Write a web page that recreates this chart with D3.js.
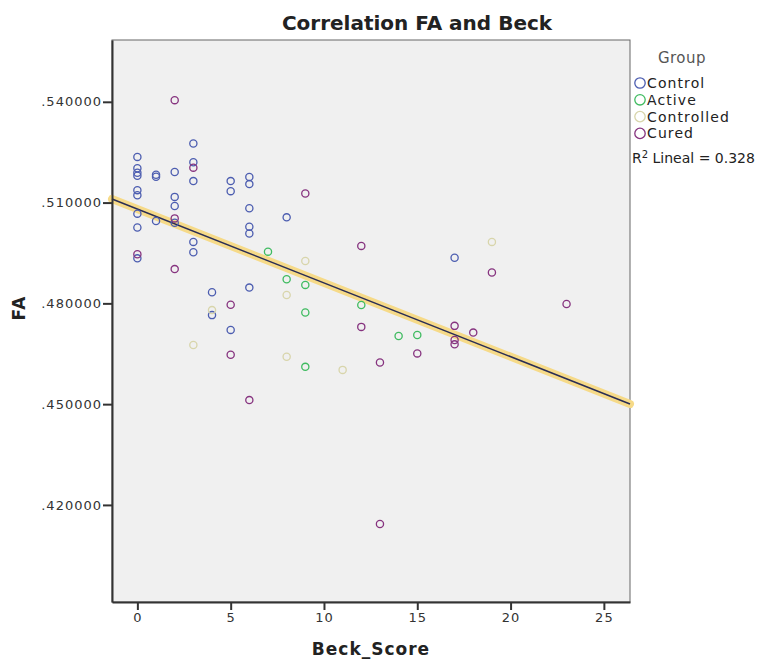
<!DOCTYPE html>
<html>
<head>
<meta charset="utf-8">
<script src="https://cdn.jsdelivr.net/npm/d3@7"></script>
<style>
    body { margin: 0; background: #fff; }
    svg text { font-family: "DejaVu Sans", sans-serif; }
</style>
</head>
<body>
<svg id="chart" width="762" height="662"></svg>
<script>
// Values: Beck score (x) and FA (y) per group
var controlBeck = [0, 0, 0, 0, 1, 1, 2, 3, 3, 3, 5, 5, 6, 6, 0, 0, 2, 2, 6, 8, 0, 1, 2, 0, 6, 6, 3, 3, 0, 6, 4, 4, 5, 17];
var controlFA = [.5236, .5202, .5189, .5180, .5183, .5177, .5191, .5276, .5220, .5164, .5164, .5134, .5176, .5155, .5137, .5122, .5117, .5090, .5083, .5056, .5067, .5045, .5040, .5026, .5028, .5008, .4983, .4952, .4934, .4847, .4833, .4765, .4721, .4936];

var activeBeck = [7, 8, 9, 9, 9, 12, 14, 15];
var activeFA = [.4954, .4872, .4855, .4773, .4611, .4795, .4703, .4706];

var controlledBeck = [9, 8, 4, 3, 8, 11, 19];
var controlledFA = [.4926, .4825, .4780, .4676, .4641, .4602, .4983];

var curedBeck = [2, 3, 9, 2, 0, 2, 5, 5, 6, 12, 12, 19, 23, 13, 15, 17, 18, 17, 17, 13];
var curedFA = [.5405, .5204, .5127, .5053, .4946, .4902, .4796, .4647, .4512, .4971, .4730, .4892, .4798, .4624, .4651, .4733, .4713, .4691, .4678, .4143];

var groupNames = ['Control', 'Active', 'Controlled', 'Cured'];
var groupColors = ['#4c5db0', '#3fbb60', '#d8d5ab', '#86337f'];

var xTicks = [0, 5, 10, 15, 20, 25];
var yTicks = [.42, .45, .48, .51, .54];
var rSquaredText = '0.328';

var groups = [
    {name: groupNames[0], x: controlBeck, y: controlFA},
    {name: groupNames[1], x: activeBeck, y: activeFA},
    {name: groupNames[2], x: controlledBeck, y: controlledFA},
    {name: groupNames[3], x: curedBeck, y: curedFA}
];

var margin = {top: 40, right: 132, bottom: 60, left: 112};
var width = 762 - margin.left - margin.right;
var height = 662 - margin.top - margin.bottom;

var svg = d3.select('#chart');
var g = svg.append('g')
    .attr('transform', 'translate(' + margin.left + ',' + margin.top + ')');

var x = d3.scaleLinear().domain([-1.36, 26.4]).range([0, width]);
var y = d3.scaleLinear().domain([.3911, .5584]).range([height, 0]);

// plot background
g.append('rect')
    .attr('width', width)
    .attr('height', height)
    .attr('fill', '#f0f0f0')
    .attr('stroke', '#666')
    .attr('stroke-width', 1);

// least squares fit over all points
var allX = [], allY = [];
groups.forEach(function(grp) {
    allX = allX.concat(grp.x);
    allY = allY.concat(grp.y);
});
var mx = d3.mean(allX), my = d3.mean(allY);
var sxy = d3.sum(allX, function(v, i) { return (v - mx) * (allY[i] - my); });
var sxx = d3.sum(allX, function(v) { return (v - mx) * (v - mx); });
var slope = sxy / sxx;
var intercept = my - slope * mx;

var fitLine = d3.line()
    .x(function(d) { return x(d); })
    .y(function(d) { return y(intercept + slope * d); });
var ends = x.domain();

g.append('path')
    .datum(ends)
    .attr('d', fitLine)
    .attr('fill', 'none')
    .attr('stroke', '#f6da88')
    .attr('stroke-width', 8)
    .attr('stroke-linecap', 'round');
g.append('path')
    .datum(ends)
    .attr('d', fitLine)
    .attr('fill', 'none')
    .attr('stroke', '#2a2d55')
    .attr('stroke-width', 1.5);

// points
groups.forEach(function(grp, gi) {
    g.selectAll('.pt' + gi)
        .data(grp.x)
        .enter().append('circle')
            .attr('class', 'pt' + gi)
            .attr('cx', function(d) { return x(d); })
            .attr('cy', function(d, i) { return y(grp.y[i]); })
            .attr('r', 3.6)
            .attr('fill', 'none')
            .attr('stroke', groupColors[gi])
            .attr('stroke-width', 1.3);
});

// axes
var xAxis = d3.axisBottom(x).tickValues(xTicks).tickSize(8).tickSizeOuter(0).tickPadding(3).tickFormat(d3.format('d'));
var yAxis = d3.axisLeft(y).tickValues(yTicks).tickSize(9).tickSizeOuter(0).tickPadding(1).tickFormat(function(d) {
    return d3.format('.6f')(d).replace(/^0/, '');
});

var gx = g.append('g')
    .attr('transform', 'translate(0,' + height + ')')
    .call(xAxis);
var gy = g.append('g').call(yAxis);

[gx, gy].forEach(function(a) {
    a.select('.domain').attr('stroke', '#333').attr('stroke-width', 2);
    a.selectAll('.tick line').attr('stroke', '#333').attr('stroke-width', 2);
    a.selectAll('.tick text')
        .attr('fill', '#333')
        .style('font-size', '13px')
        .style('letter-spacing', '1px');
});

// titles
svg.append('text')
    .attr('x', 417)
    .attr('y', 30)
    .attr('text-anchor', 'middle')
    .style('font-size', '20px')
    .style('font-weight', 'bold')
    .attr('fill', '#222')
    .text('Correlation FA and Beck');

svg.append('text')
    .attr('x', margin.left + width / 2)
    .attr('y', 655)
    .attr('text-anchor', 'middle')
    .style('font-size', '17px')
    .style('font-weight', 'bold')
    .style('letter-spacing', '1px')
    .attr('fill', '#222')
    .text('Beck_Score');

svg.append('text')
    .attr('transform', 'translate(25,308) rotate(-90)')
    .attr('text-anchor', 'middle')
    .style('font-size', '17px')
    .style('font-weight', 'bold')
    .style('letter-spacing', '1px')
    .attr('fill', '#222')
    .text('FA');

// legend
var legend = svg.append('g').attr('transform', 'translate(634,0)');
legend.append('text')
    .attr('x', 48)
    .attr('y', 63)
    .attr('text-anchor', 'middle')
    .style('font-size', '15px')
    .style('letter-spacing', '0.5px')
    .attr('fill', '#555')
    .text('Group');

var items = legend.selectAll('.item')
    .data(groupNames)
    .enter().append('g')
        .attr('class', 'item')
        .attr('transform', function(d, i) { return 'translate(0,' + (83 + i * 16.8) + ')'; });
items.append('circle')
    .attr('cx', 6)
    .attr('cy', 0)
    .attr('r', 5.2)
    .attr('fill', 'none')
    .attr('stroke', function(d, i) { return groupColors[i]; })
    .attr('stroke-width', 1.3);
items.append('text')
    .attr('x', 13)
    .attr('y', 5)
    .style('font-size', '14px')
    .style('letter-spacing', '1.1px')
    .attr('fill', '#222')
    .text(function(d) { return d; });

var r2 = legend.append('text')
    .attr('x', -2)
    .attr('y', 163)
    .style('font-size', '14px')
    .attr('fill', '#222');
r2.append('tspan').text('R');
r2.append('tspan').attr('dy', -5).style('font-size', '10px').text('2');
r2.append('tspan').attr('dy', 5).text(' Lineal = ' + rSquaredText);
</script>
</body>
</html>
